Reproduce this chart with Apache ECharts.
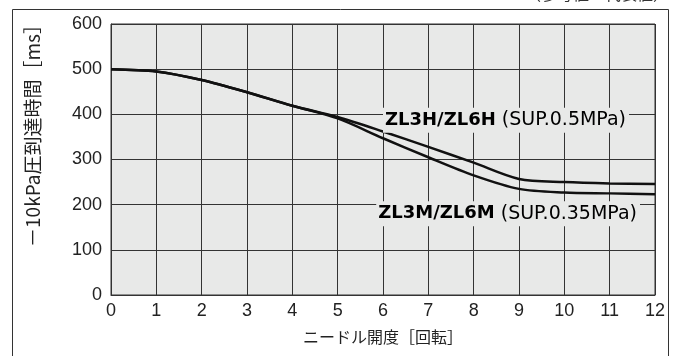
<!DOCTYPE html>
<html>
<head>
<meta charset="utf-8">
<script src="https://cdn.jsdelivr.net/npm/echarts@6/dist/echarts.min.js"></script>
<style>
html,body{margin:0;padding:0;background:#fff;}
#c{width:679px;height:356px;}
</style>
</head>
<body>
<div id="c"></div>
<script>
// ---- data ----
var turns = [0, 1, 2, 3, 4, 5, 6, 7, 8, 9, 10, 11, 12];
var seriesH = [500, 495, 476, 449, 419, 394, 362, 328, 293, 257, 250, 247, 246];
var seriesM = [500, 495, 476, 449, 419, 391, 347, 305, 265, 235, 227, 225, 223];
var labelH = ['ZL3H/ZL6H', ' (SUP.0.5MPa)'];
var labelM = ['ZL3M/ZL6M', ' (SUP.0.35MPa)'];
var xAxisTitle = 'ニードル開度［回転］';
var yAxisTitle = '－10kPa圧到達時間［ms］';
var noteText = '（参考値・代表値）';

function pairs(xs, ys) { return xs.map(function (x, i) { return [x, ys[i]]; }); }

var chart = echarts.init(document.getElementById('c'), null, {renderer: 'canvas'});
var axisFont = {fontFamily: 'Liberation Sans, Arial, sans-serif', fontSize: 18, color: '#222'};
var lineStyle = {color: '#111', width: 2.5};

chart.setOption({
  animation: false,
  backgroundColor: '#ffffff',
  grid: {left: 111, right: 24, top: 24, bottom: 61, show: true,
         backgroundColor: '#e8e9e8', borderColor: '#333', borderWidth: 1},
  xAxis: {
    type: 'value', min: 0, max: 12, interval: 1,
    axisLine: {show: true, lineStyle: {color: '#333', width: 1}},
    axisTick: {show: false},
    splitLine: {show: true, lineStyle: {color: '#333', width: 1}},
    axisLabel: Object.assign({margin: 7}, axisFont),
    name: xAxisTitle, nameLocation: 'middle', nameGap: 34,
    nameTextStyle: {fontFamily: 'Noto Sans CJK JP', fontSize: 16, color: '#222'}
  },
  yAxis: {
    type: 'value', min: 0, max: 600, interval: 100,
    axisLine: {show: true, lineStyle: {color: '#333', width: 1}},
    axisTick: {show: false},
    splitLine: {show: true, lineStyle: {color: '#333', width: 1}},
    axisLabel: Object.assign({margin: 9}, axisFont)
  },
  series: [
    {type: 'line', data: pairs(turns, seriesH), smooth: 0.3, symbol: 'none', lineStyle: lineStyle, z: 3},
    {type: 'line', data: pairs(turns, seriesM), smooth: 0.3, symbol: 'none', lineStyle: lineStyle, z: 3}
  ]
});

var p1 = chart.convertToPixel({gridIndex: 0}, [6.0, 387]);
var p2 = chart.convertToPixel({gridIndex: 0}, [5.85, 180]);
var rich = {
  b: {fontFamily: 'DejaVu Sans', fontWeight: 'bold', fontSize: 18, color: '#111'},
  r: {fontFamily: 'DejaVu Sans', fontSize: 19, color: '#111'}
};
function seriesLabel(p, parts) {
  return {
    type: 'text', x: p[0], y: p[1], z: 10,
    style: {
      text: '{b|' + parts[0] + '}{r|' + parts[1] + '}',
      rich: rich, align: 'left', verticalAlign: 'middle',
      backgroundColor: '#e8e9e8', padding: [3, 3, 3, 2]
    }
  };
}

chart.setOption({
  graphic: [
    {type: 'rect', shape: {x: 12.5, y: 9.5, width: 656, height: 400}, z: -1,
     style: {fill: 'none', stroke: '#333', lineWidth: 1}},
    {type: 'text', x: 669, y: -14, style: {text: noteText, align: 'right',
     fontFamily: 'Noto Sans CJK JP', fontSize: 16, fill: '#333'}},
    {type: 'text', x: 33, y: 131, rotation: Math.PI / 2,
     style: {text: yAxisTitle, align: 'center', verticalAlign: 'middle',
     fontFamily: 'Noto Sans CJK JP', fontSize: 19, fill: '#222'}},
    seriesLabel(p1, labelH),
    seriesLabel(p2, labelM)
  ]
});
</script>
</body>
</html>
